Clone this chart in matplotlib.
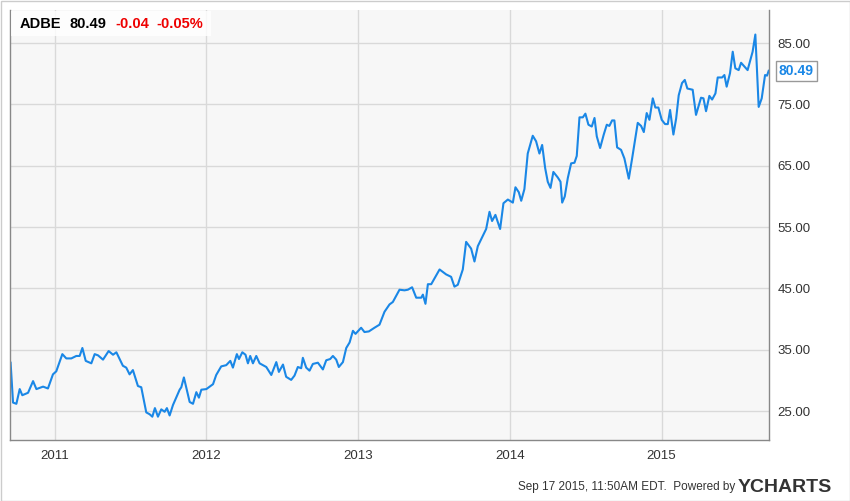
import matplotlib
matplotlib.use("Agg")
import matplotlib.pyplot as plt
from matplotlib.patches import Rectangle

plt.rcParams["font.family"] = "Liberation Sans"

# decimal year, price
dates = [2010.710, 2010.726, 2010.748, 2010.770, 2010.787, 2010.825, 2010.858, 2010.880, 2010.924, 2010.956,
         2010.989, 2011.011, 2011.051, 2011.077, 2011.110, 2011.143, 2011.165, 2011.183, 2011.205, 2011.242,
         2011.264, 2011.286, 2011.319, 2011.356, 2011.385, 2011.407, 2011.450, 2011.472, 2011.494, 2011.516,
         2011.549, 2011.571, 2011.604, 2011.626, 2011.644, 2011.661, 2011.681, 2011.703, 2011.725, 2011.740,
         2011.758, 2011.780, 2011.824, 2011.835, 2011.852, 2011.890, 2011.912, 2011.934, 2011.951, 2011.967,
         2012.000, 2012.044, 2012.065, 2012.098, 2012.131, 2012.158, 2012.175, 2012.201, 2012.215, 2012.237,
         2012.258, 2012.274, 2012.289, 2012.307, 2012.329, 2012.351, 2012.395, 2012.428, 2012.461, 2012.478,
         2012.505, 2012.526, 2012.559, 2012.581, 2012.603, 2012.625, 2012.636, 2012.658, 2012.680, 2012.702,
         2012.735, 2012.768, 2012.790, 2012.816, 2012.834, 2012.856, 2012.873, 2012.900, 2012.922, 2012.944,
         2012.966, 2012.983, 2013.020, 2013.042, 2013.071, 2013.108, 2013.141, 2013.174, 2013.207, 2013.229,
         2013.273, 2013.306, 2013.328, 2013.356, 2013.383, 2013.416, 2013.427, 2013.444, 2013.460, 2013.482,
         2013.537, 2013.580, 2013.613, 2013.635, 2013.657, 2013.690, 2013.712, 2013.745, 2013.767, 2013.789,
         2013.844, 2013.866, 2013.883, 2013.905, 2013.936, 2013.958, 2013.987, 2014.020, 2014.037, 2014.059,
         2014.075, 2014.096, 2014.118, 2014.151, 2014.173, 2014.195, 2014.213, 2014.233, 2014.250, 2014.268,
         2014.287, 2014.316, 2014.334, 2014.345, 2014.362, 2014.382, 2014.404, 2014.426, 2014.441, 2014.459,
         2014.481, 2014.498, 2014.518, 2014.540, 2014.558, 2014.573, 2014.595, 2014.619, 2014.639, 2014.656,
         2014.674, 2014.689, 2014.707, 2014.733, 2014.755, 2014.784, 2014.806, 2014.843, 2014.865, 2014.883,
         2014.902, 2014.920, 2014.942, 2014.959, 2014.979, 2015.001, 2015.023, 2015.041, 2015.056, 2015.078,
         2015.096, 2015.113, 2015.135, 2015.153, 2015.170, 2015.205, 2015.227, 2015.260, 2015.276, 2015.293,
         2015.315, 2015.333, 2015.355, 2015.370, 2015.399, 2015.414, 2015.429, 2015.451, 2015.469, 2015.486,
         2015.508, 2015.524, 2015.567, 2015.600, 2015.618, 2015.640, 2015.660, 2015.682, 2015.695, 2015.706]
prices = [32.9, 26.4, 26.2, 28.6, 27.6, 28.0, 29.9, 28.6, 29.0, 28.7,
          31.0, 31.5, 34.3, 33.6, 33.6, 34.0, 34.0, 35.3, 33.2, 32.8,
          34.3, 34.1, 33.4, 34.8, 34.2, 34.6, 32.4, 32.1, 31.0, 31.7,
          29.1, 28.9, 24.8, 24.5, 24.1, 25.5, 24.1, 25.3, 24.9, 25.5,
          24.3, 26.0, 28.5, 28.9, 30.5, 26.5, 26.2, 28.1, 27.2, 28.5,
          28.6, 29.4, 30.9, 32.3, 32.5, 33.2, 32.1, 34.3, 33.5, 34.6,
          34.2, 32.8, 34.0, 32.8, 34.0, 32.8, 32.2, 30.9, 33.0, 31.4,
          32.6, 30.6, 30.1, 30.8, 32.2, 32.0, 33.7, 32.1, 31.6, 32.7,
          32.9, 31.8, 33.3, 33.5, 34.0, 33.4, 32.2, 33.0, 35.3, 36.2,
          38.1, 37.6, 38.6, 37.9, 38.0, 38.6, 39.1, 41.2, 42.4, 42.8,
          44.8, 44.7, 44.8, 45.2, 43.5, 43.5, 44.0, 42.5, 45.7, 45.7,
          48.1, 47.3, 46.9, 45.3, 45.6, 48.1, 52.6, 51.5, 49.4, 51.9,
          54.7, 57.5, 56.0, 57.0, 54.7, 58.9, 59.5, 59.0, 61.5, 60.7,
          59.3, 61.2, 67.0, 69.9, 69.0, 67.0, 68.4, 64.6, 62.4, 61.4,
          64.0, 63.1, 62.4, 59.0, 60.0, 63.0, 65.4, 65.5, 66.6, 72.9,
          72.9, 73.5, 71.7, 71.4, 72.8, 69.8, 67.9, 70.1, 71.7, 71.5,
          72.4, 72.4, 68.0, 67.6, 66.2, 62.9, 66.2, 72.0, 71.5, 70.5,
          73.6, 72.5, 76.0, 74.5, 74.5, 72.5, 71.8, 71.8, 74.1, 70.1,
          72.7, 76.5, 78.5, 79.0, 77.6, 77.4, 73.3, 76.1, 76.0, 73.9,
          76.4, 75.8, 76.8, 79.4, 79.4, 79.8, 77.9, 80.1, 83.6, 80.9,
          80.6, 81.8, 80.6, 83.6, 86.4, 74.6, 76.0, 79.8, 79.7, 80.49]

year_ticks = [2011, 2012, 2013, 2014, 2015]
price_ticks = [25, 35, 45, 55, 65, 75, 85]
last_price = 80.49

W, H = 850, 501
fig = plt.figure(figsize=(W / 100, H / 100), dpi=100)
fig.patch.set_facecolor("white")
fig.add_artist(Rectangle((0.5 / W, 0.5 / H), (W - 1) / W, (H - 1) / H, transform=fig.transFigure,
                         fill=False, edgecolor="#cccccc", lw=1))

ax = fig.add_axes([10 / W, (H - 440) / H, 759 / W, 430 / H])
ax.set_facecolor("#f7f7f7")
ax.plot(dates, prices, color="#1a87e6", lw=1.5)
ax.set_xlim(2010.706, 2015.708)
ax.set_ylim(20.3, 90.4)
ax.set_xticks(year_ticks)
ax.set_xticklabels([str(y) for y in year_ticks])
ax.set_yticks(price_ticks)
ax.set_yticklabels([f"{p:.2f}" for p in price_ticks])
ax.yaxis.tick_right()
ax.tick_params(length=0, labelsize=9.5, colors="#333333", pad=7)
ax.tick_params(axis="y", pad=6)
ax.grid(True, color="#d9d9d9", lw=1)
for s in ax.spines.values():
    s.set_color("#888888")
    s.set_linewidth(1)
ax.spines["top"].set_visible(False)

# header label
fig.add_artist(Rectangle((11 / W, (H - 36) / H), 200 / W, 25 / H, transform=fig.transFigure,
                         facecolor="white", edgecolor="none", alpha=0.8))
hy = (H - 24) / H
fig.text(20 / W, hy, "ADBE", fontsize=10.5, weight="bold", va="center")
fig.text(70 / W, hy, "80.49", fontsize=10.5, weight="bold", va="center")
fig.text(115 / W, hy, "-0.04", fontsize=10.5, weight="bold", va="center", color="#ee0000")
fig.text(156 / W, hy, "-0.05%", fontsize=10.5, weight="bold", va="center", color="#ee0000")

# last price tag
ax.annotate(f"{last_price:.2f}", xy=(1.0, last_price), xycoords=("axes fraction", "data"),
            xytext=(7, 0), textcoords="offset points", va="center", ha="left", fontsize=10,
            weight="bold", color="#1a87e6", annotation_clip=False,
            bbox=dict(boxstyle="square,pad=0.2", fc="white", ec="#999999", lw=1))

fig.text(735 / W, 14 / H, "Sep 17 2015, 11:50AM EDT.  Powered by", ha="right", va="center",
         fontsize=8.5, color="#333333")
fig.text(738 / W, 14 / H, "YCHARTS", ha="left", va="center", fontsize=14, weight="bold", color="#333333")

fig.savefig("out.png", dpi=100)
